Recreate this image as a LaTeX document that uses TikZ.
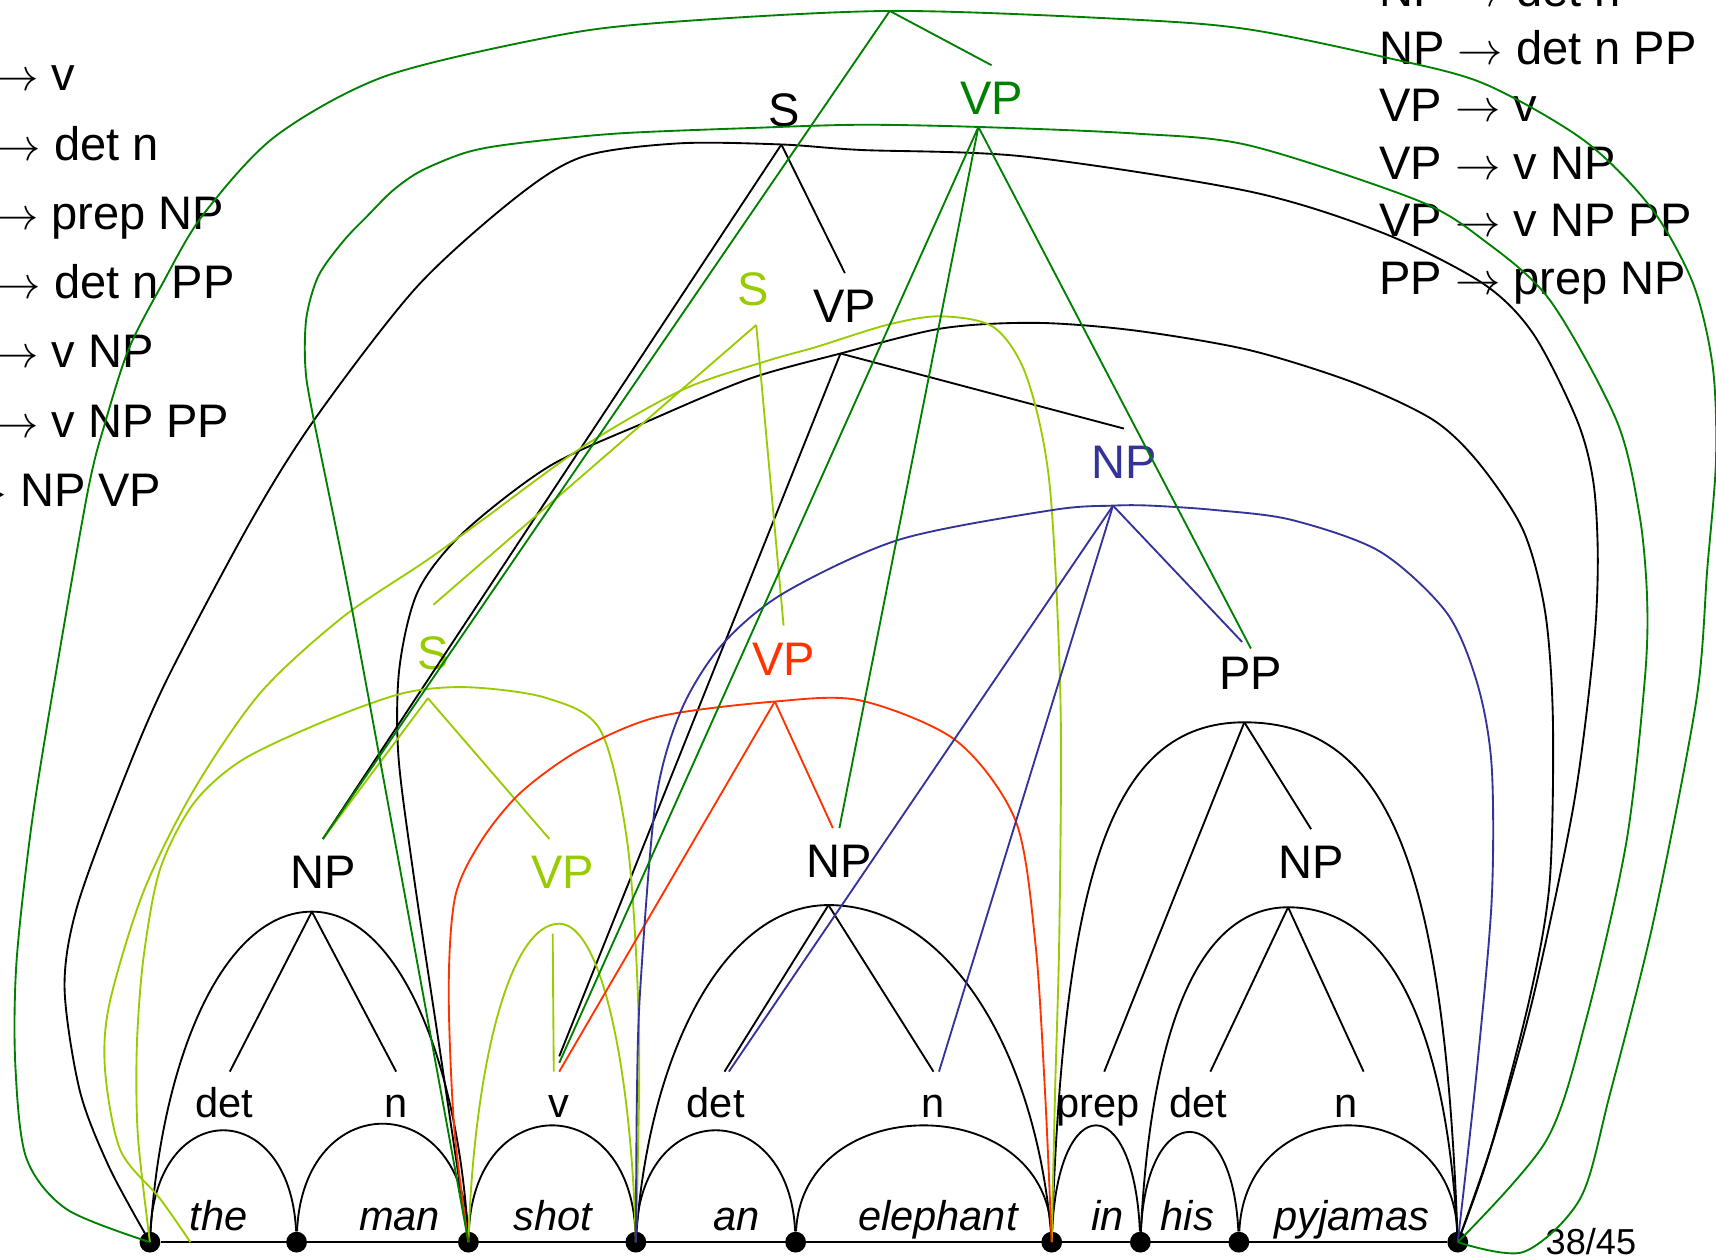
\documentclass[tikz,border=0pt]{standalone}
\usepackage{fontspec}
\setmainfont{Liberation Sans}
\usetikzlibrary{calc}
\definecolor{chartGreen}{HTML}{008000}
\definecolor{chartLime}{HTML}{99CC00}
\definecolor{chartRed}{HTML}{FF3300}
\definecolor{chartBlue}{HTML}{333399}
\tikzset{
  arcline/.style={line width=0.85pt},
  catlabel/.style={font=\fontsize{21.5}{26}\selectfont,text height=15.5pt,text depth=0pt,inner sep=7pt,anchor=base},
  taglabel/.style={font=\fontsize{19}{23}\selectfont,text height=13.7pt,text depth=0pt,inner sep=7pt,anchor=base},
  wordlabel/.style={font=\fontsize{19}{23}\selectfont\itshape,inner sep=0pt,anchor=base},
  rulelabel/.style={font=\fontsize{21.5}{26}\selectfont,inner sep=0pt,anchor=base west},
  chartdot/.style={circle,fill=black,inner sep=0pt,minimum size=9.5pt},
}
% edge of the chart: left vertex, apex, right vertex, roundness
\newcommand\chartarc[5][]{%
  \draw[arcline,#1] let \p1=(#2), \p2=(#3), \p3=(#4) in
    (\p1) .. controls ({(\x1)+0.06*((\x2)-(\x1))},{(\y1)+#5*((\y2)-(\y1))})
                 and ({(\x2)-#5*((\x2)-(\x1))},\y2) .. (\p2)
          .. controls ({(\x2)+#5*((\x3)-(\x2))},\y2)
                 and ({(\x3)-0.06*((\x3)-(\x2))},{(\y3)+#5*((\y2)-(\y3))}) .. (\p3);}

\begin{document}
\begin{tikzpicture}[x=0.5pt,y=-0.5pt]
  \useasboundingbox (0,0) rectangle (1568,1147);
  \clip (0,0) rectangle (1568,1147);

  % grammar, cut by the slide edges
  \foreach \r [count=\i from 0] in {VP $\rightarrow$ v, NP $\rightarrow$ det n, PP $\rightarrow$ prep NP, NP $\rightarrow$ det n PP, VP $\rightarrow$ v NP, VP $\rightarrow$ v NP PP, S $\rightarrow$ NP VP}
    \node[rulelabel] (lrule\i) at (-76,{83+63.3*\i}) {\r};
  \foreach \r [count=\i from 0] in {NP $\rightarrow$ det n, NP $\rightarrow$ det n PP, VP $\rightarrow$ v, VP $\rightarrow$ v NP, VP $\rightarrow$ v NP PP, PP $\rightarrow$ prep NP}
    \node[rulelabel] (rrule\i) at (1260,{6+52.6*\i}) {\r};

  % vertices and words
  \foreach \x [count=\i from 0] in {137,271,428,581,727,961,1042,1132,1332}
    \node[chartdot] (d\i) at (\x,1135) {};
  \draw[arcline] (d0) -- (d8);
  \foreach \w/\x in {the/200,man/365,shot/505,an/673,elephant/857,in/1012,his/1085,pyjamas/1235}
    \node[wordlabel] (w-\w) at (\x,1124) {\w};
  \foreach \a/\b/\h in {0/1/133,1/2/141,2/3/139,3/4/133,4/5/139,5/6/139,6/7/131,7/8/139}
    \draw[arcline] (d\a) .. controls +(6,-\h) and +(-6,-\h) .. (d\b);
  \node[font=\fontsize{16.5}{20}\selectfont,inner sep=0pt,anchor=base west] (page) at (1412,1146) {38/45};

  % preterminals
  \node[taglabel] (det1) at (205,1021) {det};
  \node[taglabel] (n1) at (362,1021) {n};
  \node[taglabel] (v) at (511,1021) {v};
  \node[taglabel] (det2) at (654,1021) {det};
  \node[taglabel] (n2) at (853,1021) {n};
  \node[taglabel] (prep) at (1003,1021) {prep};
  \node[taglabel] (det3) at (1095,1021) {det};
  \node[taglabel] (n3) at (1230,1021) {n};

  % constituents
  \node[catlabel] (NPa) at (295,812) {NP};
  \node[catlabel,text=chartLime] (VPs) at (514,812) {VP};
  \node[catlabel] (NPb) at (767,802) {NP};
  \node[catlabel] (NPc) at (1198,803) {NP};
  \node[catlabel] (PP) at (1143,630) {PP};
  \node[catlabel,text=chartBlue] (NPd) at (1027,437) {NP};
  \node[catlabel,text=chartRed] (VPr) at (716,617) {VP};
  \node[catlabel,text=chartLime] (Sl) at (396,612) {S};
  \node[catlabel,text=chartLime] (Su) at (688,279) {S};
  \node[catlabel] (VPk) at (772,295) {VP};
  \node[catlabel] (Sk) at (717,116) {S};
  \node[catlabel,text=chartGreen] (VPg) at (906,105) {VP};

  \coordinate (NPa-top) at (285,833);
  \coordinate (VPs-top) at (511,844);
  \coordinate (VPs-fork) at (505,853);
  \coordinate (NPb-top) at (757,827);
  \coordinate (NPc-top) at (1177,829);
  \coordinate (PP-top) at (1137,660);
  \coordinate (NPd-top) at (1017,462);
  \coordinate (VPr-top) at (708,641);
  \coordinate (Sl-top) at (391,638);
  \coordinate (Su-top) at (691,297);
  \coordinate (Su-foot) at (174,1135);
  \coordinate (VPk-top) at (768,323);
  \coordinate (Sk-top) at (714,132);
  \coordinate (VPg-top) at (894,116);
  \coordinate (Sg-top) at (813,10);

  % black edges
  \chartarc{d0}{NPa-top}{d2}{0.55}
  \chartarc{d3}{NPb-top}{d5}{0.55}
  \chartarc{d6}{NPc-top}{d8}{0.62}
  \chartarc{d5}{PP-top}{d8}{0.7}
  \draw[arcline] (NPa-top) -- ([xshift=2.5pt]det1.north);
  \draw[arcline] (NPa-top) -- (n1.north);
  \draw[arcline] (NPb-top) -- ([xshift=4pt]det2.north);
  \draw[arcline] (NPb-top) -- (n2.north);
  \draw[arcline] (NPc-top) -- ([xshift=5.5pt]det3.north);
  \draw[arcline] (NPc-top) -- ([xshift=8pt]n3.north);
  \draw[arcline] (PP-top) -- ([xshift=3pt]prep.north);
  \draw[arcline] (PP-top) -- (NPc.north);
  \draw[arcline] plot[smooth,tension=0.5] coordinates {(d2) (402,960) (378,800) (364,690) (365,610) (382,540) (423,487) (502,426) (594,384) (685,346) (VPk-top) (861,300) (947,295) (1037,302) (1142,320) (1238,350) (1310,384) (1352,424) (1392,485) (1412,560) (1419,660) (1416,806) (1398,911) (1361,1053) (d8)};
  \draw[arcline] (VPk-top) -- ([yshift=7pt]v.north);
  \draw[arcline] (VPk-top) -- (NPd.north);
  \draw[arcline] plot[smooth,tension=0.5] coordinates {(d0) (100,1067) (73,997) (59,903) (70,830) (110,720) (152,622) (230,475) (289,381) (381,262) (472,180) (533,143) (620,131) (Sk-top) (786,137) (936,143) (1142,175) (1264,213) (1355,259) (1401,305) (1441,384) (1456,441) (1460,512) (1456,594) (1438,735) (1401,911) (1365,1040) (d8)};
  \draw[arcline] (Sk-top) -- (NPa.north);
  \draw[arcline] (Sk-top) -- (VPk.north);

  % light green edges
  \chartarc[chartLime]{d2}{VPs-top}{d3}{0.55}
  \draw[arcline,chartLime] (VPs-fork) -- ([xshift=-2.5pt]v.north);
  \draw[arcline,chartLime] plot[smooth,tension=0.5] coordinates {(d0) (126,1038) (125,957) (131,876) (146,795) (177,734) (222,694) (299,658) (370,633) (429,628) (500,638) (549,668) (574,776) (584,947) (d3)};
  \draw[arcline,chartLime] (Sl-top) -- (NPa.north);
  \draw[arcline,chartLime] (Sl-top) -- ([xshift=-6pt]VPs.north);
  \draw[arcline,chartLime] plot[smooth,tension=0.5] coordinates {(Su-foot) (146,1095) (110,1051) (96,978) (100,917) (131,815) (177,722) (238,633) (313,564) (390,512) (441,475) (533,408) (624,356) (700,330) (746,317) (810,297) (859,289) (908,299) (938,344) (959,442) (969,640) (968,850) (964,1000) (d5)};
  \draw[arcline,chartLime] (Su-top) -- ([yshift=7pt]Sl.north);
  \draw[arcline,chartLime] (Su-top) -- (VPr.north);

  % red edges
  \draw[arcline,chartRed] plot[smooth,tension=0.5] coordinates {(d2) (415,1030) (410,904) (416,819) (440,768) (476,724) (530,685) (601,655) (VPr-top) (786,640) (874,677) (928,750) (946,861) (955,1000) (d5)};
  \draw[arcline,chartRed] (VPr-top) -- (v.north);
  \draw[arcline,chartRed] (VPr-top) -- ([xshift=-3pt]NPb.north);

  % blue edges
  \draw[arcline,chartBlue] plot[smooth,tension=0.5] coordinates {(d3) (582,1000) (585,904) (599,733) (622,650) (659,590) (716,542) (822,493) (962,466) (NPd-top) (1051,462) (1110,466) (1180,475) (1261,504) (1322,560) (1350,625) (1363,700) (1363,823) (1349,982) (d8)};
  \draw[arcline,chartBlue] (NPd-top) -- ([xshift=6pt]det2.north);
  \draw[arcline,chartBlue] (NPd-top) -- ([xshift=2.5pt]n2.north);
  \draw[arcline,chartBlue] (NPd-top) -- ([xshift=-4pt,yshift=-1pt]PP.north);

  % dark green edges
  \draw[arcline,chartGreen] plot[smooth,tension=0.5] coordinates {(d2) (374,840) (320,548) (286,380) (279,335) (280,290) (291,252) (314,220) (336,197) (359,174) (385,156) (427,139) (472,131) (564,122) (685,117) (786,114) (VPg-top) (1037,122) (1142,133) (1295,183) (1355,219) (1416,274) (1477,384) (1498,470) (1505,546) (1503,620) (1486,770) (1450,929) (1413,1042) (d8)};
  \draw[arcline,chartGreen] (VPg-top) -- ([yshift=4pt]v.north);
  \draw[arcline,chartGreen] (VPg-top) -- (NPb.north);
  \draw[arcline,chartGreen] (VPg-top) -- ([yshift=-4pt]PP.north);
  \draw[arcline,chartGreen] plot[smooth,tension=0.5] coordinates {(d0) (61,1105) (24,1058) (14,973) (15,880) (28,760) (46,645) (80,450) (97,383) (118,318) (148,260) (185,197) (251,125) (351,70) (501,34) (601,21) (Sg-top) (1037,18) (1142,27) (1264,52) (1355,76) (1447,128) (1508,189) (1547,259) (1565,335) (1568,420) (1560,520) (1550,640) (1511,841) (1471,1000) (1444,1095) (1392,1144) (d8)};
  \draw[arcline,chartGreen] (Sg-top) -- (NPa.north);
  \draw[arcline,chartGreen] (Sg-top) -- (VPg.north);
\end{tikzpicture}
\end{document}
